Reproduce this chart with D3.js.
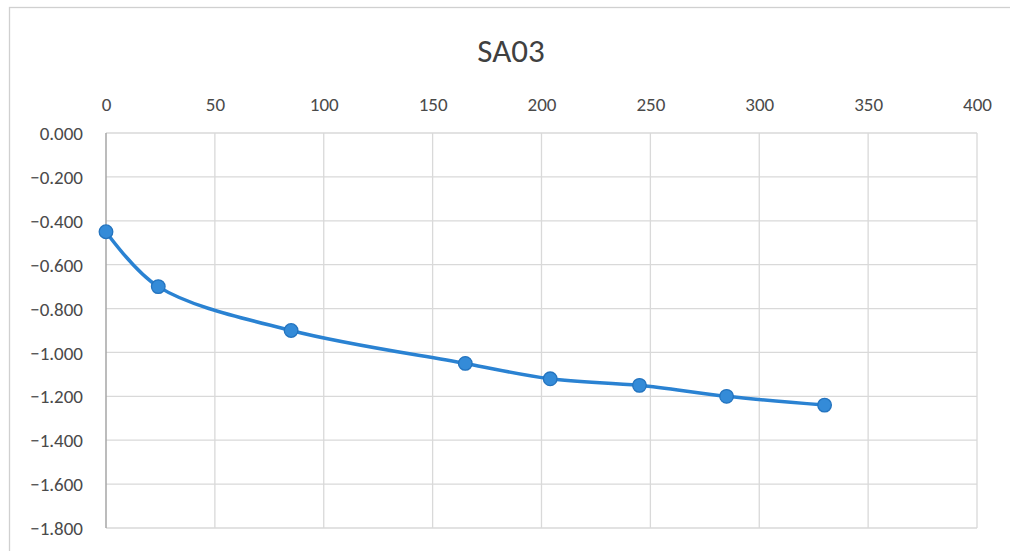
<!DOCTYPE html>
<html>
<head>
<meta charset="utf-8">
<script src="https://d3js.org/d3.v7.min.js"></script>
<style>
body { margin: 0; background: #fff; }
text { font-family: Carlito, Lato, "Open Sans", sans-serif; }
.grid line { stroke: #d9d9d9; stroke-width: 1.3px; }
</style>
</head>
<body>
<div id="chart"></div>
<script type="text/javascript">
  // readings for SA03
  var xValues = [0, 24, 85, 165, 204, 245, 285, 330];
  var yValues = [-0.45, -0.70, -0.90, -1.05, -1.12, -1.15, -1.20, -1.24];
  var xTicks = [0, 50, 100, 150, 200, 250, 300, 350, 400];
  var yTicks = [0, -0.2, -0.4, -0.6, -0.8, -1.0, -1.2, -1.4, -1.6, -1.8];
  var title = "SA03";

  var width = 1010, height = 551;
  var plotLeft = 106, plotRight = 977, plotTop = 133, plotBottom = 528;

  var svg = d3.select("#chart").append("svg").attr("width", width).attr("height", height);

  // chart frame
  svg.append("rect").attr("x", 9.5).attr("y", 7.5).attr("width", 1010).attr("height", 560)
     .attr("fill", "none").attr("stroke", "#d0d0d0").attr("stroke-width", 1.3);

  var x = d3.scaleLinear().domain([0, 400]).range([plotLeft, plotRight]);
  var y = d3.scaleLinear().domain([-1.8, 0]).range([plotBottom, plotTop]);

  var grid = svg.append("g").attr("class", "grid");
  grid.selectAll(".h").data(yTicks).enter().append("line")
      .attr("x1", plotLeft).attr("x2", plotRight)
      .attr("y1", function(d) { return y(d); }).attr("y2", function(d) { return y(d); });
  grid.selectAll(".v").data(xTicks.slice(1)).enter().append("line")
      .attr("y1", plotTop).attr("y2", plotBottom)
      .attr("x1", function(d) { return x(d); }).attr("x2", function(d) { return x(d); });

  // vertical axis line at x = 0
  svg.append("line").attr("x1", x(0)).attr("x2", x(0)).attr("y1", plotTop).attr("y2", plotBottom)
     .attr("stroke", "#a6a6a6").attr("stroke-width", 1.5);

  var xAxis = d3.axisTop(x).tickValues(xTicks).tickSize(0).tickPadding(0).tickFormat(d3.format("d"));
  var gx = svg.append("g").attr("transform", "translate(0," + (plotTop - 22) + ")").call(xAxis);
  gx.select(".domain").remove();
  gx.selectAll("text").attr("fill", "#4a4a4a").style("font-size", "19px");

  var yAxis = d3.axisLeft(y).tickValues(yTicks).tickSize(0).tickPadding(0).tickFormat(d3.format(".3f"));
  var gy = svg.append("g").attr("transform", "translate(" + (plotLeft - 23) + ",0)").call(yAxis);
  gy.select(".domain").remove();
  gy.selectAll("text").attr("fill", "#4a4a4a").style("font-size", "19px").attr("dy", "0.35em");

  var pts = xValues.map(function(d, i) { return {x: d, y: yValues[i]}; });

  var line = d3.line()
     .x(function(d) { return x(d.x); })
     .y(function(d) { return y(d.y); })
     .curve(d3.curveCatmullRom.alpha(0.5));

  svg.append("path").attr("d", line(pts)).attr("fill", "none")
     .attr("stroke", "#2a82d2").attr("stroke-width", 3.5);

  svg.selectAll(".pt").data(pts).enter().append("circle")
     .attr("cx", function(d) { return x(d.x); })
     .attr("cy", function(d) { return y(d.y); })
     .attr("r", 6.8)
     .attr("fill", "#348bd8").attr("stroke", "#2474bf").attr("stroke-width", 1.3);

  svg.append("text").attr("x", 511).attr("y", 62).attr("text-anchor", "middle")
     .attr("fill", "#404040").style("font-size", "33px").text(title);
</script>
</body>
</html>
